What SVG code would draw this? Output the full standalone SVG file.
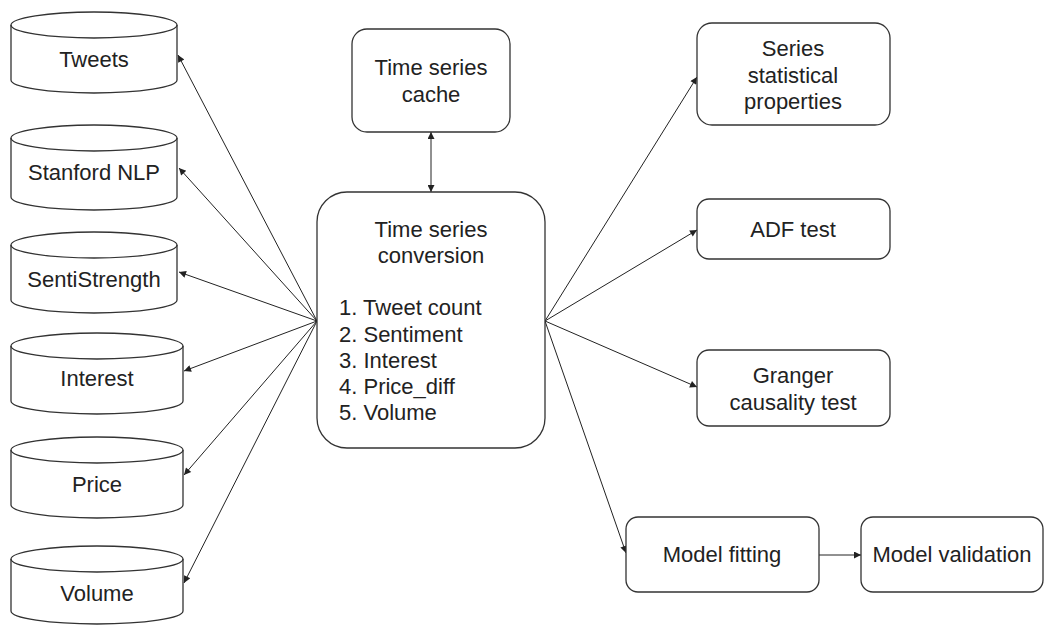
<svg xmlns="http://www.w3.org/2000/svg" width="1045" height="626" viewBox="0 0 1045 626">
<defs>
<style>
.shape{fill:#fff;stroke:#333;stroke-width:1.3}
.inner{fill:none;stroke:#333;stroke-width:1.3}
.t{font-family:"Liberation Sans",Arial,sans-serif;font-size:22px;fill:#222;text-anchor:middle}
.tl{font-family:"Liberation Sans",Arial,sans-serif;font-size:22px;fill:#222;text-anchor:start}
.c{fill:none;stroke:#222;stroke-width:1}
</style>
<marker id="ah" viewBox="0 0 10 10" refX="10" refY="5" markerWidth="9" markerHeight="7" markerUnits="userSpaceOnUse" orient="auto-start-reverse">
<path d="M0,0 L10,5 L0,10 Z" fill="#222"/>
</marker>
</defs>
<rect width="1045" height="626" fill="#fff"/>

<g id="connectors">
<line class="c" x1="317" y1="321" x2="178" y2="55" marker-end="url(#ah)"/>
<line class="c" x1="317" y1="321" x2="179" y2="168" marker-end="url(#ah)"/>
<line class="c" x1="317" y1="321" x2="179" y2="272" marker-end="url(#ah)"/>
<line class="c" x1="317" y1="321" x2="184" y2="371" marker-end="url(#ah)"/>
<line class="c" x1="317" y1="321" x2="184" y2="475" marker-end="url(#ah)"/>
<line class="c" x1="317" y1="321" x2="184" y2="583" marker-end="url(#ah)"/>
<line class="c" x1="431" y1="132" x2="431" y2="192" marker-start="url(#ah)" marker-end="url(#ah)"/>
<line class="c" x1="545" y1="321" x2="697" y2="77" marker-end="url(#ah)"/>
<line class="c" x1="545" y1="321" x2="697" y2="230" marker-end="url(#ah)"/>
<line class="c" x1="545" y1="321" x2="697" y2="387" marker-end="url(#ah)"/>
<line class="c" x1="545" y1="321" x2="626" y2="553" marker-end="url(#ah)"/>
<line class="c" x1="819" y1="555" x2="861" y2="555" marker-end="url(#ah)"/>
</g>

<g id="tweets">
<path class="shape" d="M11,25 A83,13 0 0 1 177,25 V80 A83,13 0 0 1 11,80 Z"/>
<path class="inner" d="M11,25 A83,13 0 0 0 177,25"/>
<text class="t" x="94" y="67">Tweets</text>
</g>
<g id="stanford">
<path class="shape" d="M11,138 A83,13 0 0 1 177,138 V197 A83,13 0 0 1 11,197 Z"/>
<path class="inner" d="M11,138 A83,13 0 0 0 177,138"/>
<text class="t" x="94" y="180">Stanford NLP</text>
</g>
<g id="sentistrength">
<path class="shape" d="M11,245 A83,13 0 0 1 177,245 V300 A83,13 0 0 1 11,300 Z"/>
<path class="inner" d="M11,245 A83,13 0 0 0 177,245"/>
<text class="t" x="94" y="287">SentiStrength</text>
</g>
<g id="interest">
<path class="shape" d="M11,346 A86,13 0 0 1 183,346 V401 A86,13 0 0 1 11,401 Z"/>
<path class="inner" d="M11,346 A86,13 0 0 0 183,346"/>
<text class="t" x="97" y="386">Interest</text>
</g>
<g id="price">
<path class="shape" d="M11,450 A86,13 0 0 1 183,450 V505 A86,13 0 0 1 11,505 Z"/>
<path class="inner" d="M11,450 A86,13 0 0 0 183,450"/>
<text class="t" x="97" y="492">Price</text>
</g>
<g id="volume">
<path class="shape" d="M11,559 A86,13 0 0 1 183,559 V611 A86,13 0 0 1 11,611 Z"/>
<path class="inner" d="M11,559 A86,13 0 0 0 183,559"/>
<text class="t" x="97" y="601">Volume</text>
</g>

<g id="cache">
<rect class="shape" x="352" y="29" width="158" height="103" rx="15"/>
<text class="t" x="431" y="75">Time series</text>
<text class="t" x="431" y="102">cache</text>
</g>
<g id="conversion">
<rect class="shape" x="317" y="192" width="228" height="256" rx="30"/>
<text class="t" x="431" y="237">Time series</text>
<text class="t" x="431" y="263">conversion</text>
<text class="tl" x="339" y="315">1. Tweet count</text>
<text class="tl" x="339" y="342">2. Sentiment</text>
<text class="tl" x="339" y="368">3. Interest</text>
<text class="tl" x="339" y="394">4. Price_diff</text>
<text class="tl" x="339" y="420">5. Volume</text>
</g>

<g id="stats">
<rect class="shape" x="697" y="23" width="193" height="102" rx="15"/>
<text class="t" x="793" y="56">Series</text>
<text class="t" x="793" y="83">statistical</text>
<text class="t" x="793" y="109">properties</text>
</g>
<g id="adf">
<rect class="shape" x="697" y="199" width="193" height="60" rx="12"/>
<text class="t" x="793" y="237">ADF test</text>
</g>
<g id="granger">
<rect class="shape" x="697" y="350" width="193" height="76" rx="12"/>
<text class="t" x="793" y="383">Granger</text>
<text class="t" x="793" y="410">causality test</text>
</g>
<g id="fitting">
<rect class="shape" x="626" y="517" width="193" height="75" rx="12"/>
<text class="t" x="722" y="562">Model fitting</text>
</g>
<g id="validation">
<rect class="shape" x="861" y="517" width="182" height="75" rx="12"/>
<text class="t" x="952" y="562">Model validation</text>
</g>
</svg>
